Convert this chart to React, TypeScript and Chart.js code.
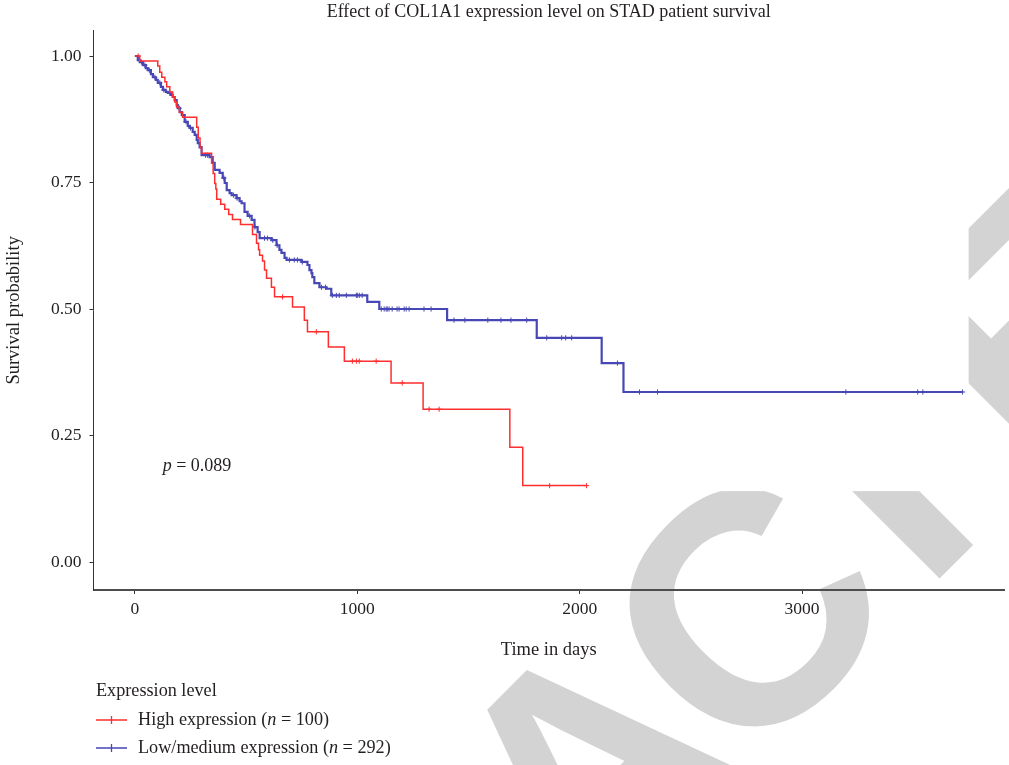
import { useEffect, useRef } from "react";
import { Chart, registerables } from "chart.js";
Chart.register(...registerables);

const TITLE = "Effect of COL1A1 expression level on STAD patient survival";
const X_TITLE = "Time in days";
const Y_TITLE = "Survival probability";
const LEGEND_TITLE = "Expression level";
const X_TICKS = [0, 1000, 2000, 3000];
const Y_TICKS = [0, 0.25, 0.5, 0.75, 1];
const Y_TICK_LABELS = ["0.00", "0.25", "0.50", "0.75", "1.00"];
const P_VALUE = "0.089";
const WATERMARK = "RETRACTED";

const HIGH_NAME = "High expression";
const HIGH_N = 100;
const HIGH_TIMES = [0, 22, 103, 112, 121, 135, 143, 157, 170, 179, 188, 200, 215, 278, 285, 293, 300, 345, 352, 359, 364, 368, 386, 404, 422, 439, 475, 529, 547, 556, 561, 574, 583, 592, 614, 628, 709, 762, 776, 870, 942, 1152, 1296, 1686, 1744];
const HIGH_SURV = [1, 0.99, 0.98, 0.968, 0.958, 0.949, 0.939, 0.929, 0.919, 0.909, 0.899, 0.889, 0.879, 0.859, 0.838, 0.818, 0.808, 0.788, 0.768, 0.748, 0.737, 0.717, 0.707, 0.697, 0.687, 0.677, 0.667, 0.647, 0.63, 0.617, 0.606, 0.595, 0.577, 0.561, 0.543, 0.524, 0.504, 0.478, 0.455, 0.425, 0.397, 0.354, 0.302, 0.227, 0.151];
const HIGH_CENSOR = [15, 664, 816, 978, 996, 1009, 1085, 1202, 1323, 1368, 1865, 2031];

const LOW_NAME = "Low/medium expression";
const LOW_N = 292;
const LOW_TIMES = [0, 13, 22, 36, 49, 58, 72, 81, 94, 103, 117, 126, 139, 148, 161, 170, 179, 188, 193, 202, 211, 224, 238, 247, 260, 269, 278, 283, 291, 300, 336, 350, 359, 381, 395, 404, 413, 426, 435, 457, 471, 480, 493, 507, 525, 538, 552, 561, 614, 637, 650, 659, 673, 682, 749, 776, 785, 794, 798, 807, 830, 861, 883, 1045, 1099, 1404, 1807, 2099, 2197];
const LOW_SURV = [1, 0.992, 0.988, 0.982, 0.976, 0.972, 0.964, 0.958, 0.953, 0.947, 0.939, 0.933, 0.929, 0.927, 0.923, 0.919, 0.913, 0.903, 0.897, 0.889, 0.883, 0.87, 0.862, 0.858, 0.85, 0.844, 0.834, 0.828, 0.82, 0.804, 0.8, 0.789, 0.775, 0.769, 0.759, 0.749, 0.735, 0.729, 0.725, 0.719, 0.713, 0.709, 0.692, 0.684, 0.676, 0.662, 0.652, 0.64, 0.636, 0.626, 0.617, 0.611, 0.601, 0.597, 0.593, 0.587, 0.577, 0.571, 0.563, 0.551, 0.543, 0.54, 0.527, 0.514, 0.5, 0.478, 0.443, 0.393, 0.336];
const LOW_CENSOR = [30, 45, 65, 90, 112, 130, 157, 200, 230, 250, 318, 327, 400, 444, 460, 516, 540, 583, 596, 620, 640, 695, 717, 731, 753, 839, 857, 888, 906, 919, 951, 996, 1000, 1009, 1022, 1108, 1121, 1130, 1135, 1143, 1157, 1179, 1188, 1211, 1220, 1233, 1300, 1332, 1435, 1484, 1587, 1646, 1691, 1762, 1852, 1919, 1937, 1964, 2170, 2269, 2350, 3197, 3520, 3543, 3722];

const RED = "#ff2e2e";
const BLUE = "#4747b5";
const TEXT = "#231f20";
const SERIF = '"Liberation Serif", "DejaVu Serif", serif';

const W = 1009;
const H = 765;

function survAt(times: number[], surv: number[], t: number) {
  let s = surv[0];
  for (let i = 0; i < times.length; i++) {
    if (times[i] <= t) s = surv[i];
  }
  return s;
}

function curve(times: number[], surv: number[], censor: number[]) {
  const pts = times.map((t, i) => ({ x: t, y: surv[i] }));
  const end = Math.max(...censor);
  if (end > times[times.length - 1]) pts.push({ x: end, y: surv[surv.length - 1] });
  return pts;
}

function censorPts(times: number[], surv: number[], censor: number[]) {
  return censor.map((t) => ({ x: t, y: survAt(times, surv, t) }));
}

const watermark = {
  id: "watermark",
  beforeDraw(chart: any) {
    const ctx = chart.ctx;
    ctx.save();
    ctx.fillStyle = "#ffffff";
    ctx.fillRect(0, 0, chart.width, chart.height);
    const size = 330;
    const gaps = [-35, -35, -35, -35, -15, -35, 12, -35, 0];
    ctx.font = `bold ${size}px "Liberation Sans", Arial, sans-serif`;
    ctx.fillStyle = "#d3d3d3";
    ctx.textBaseline = "alphabetic";
    ctx.textAlign = "left";
    const letters = WATERMARK.split("");
    const xs: number[] = [];
    let acc = 0;
    letters.forEach((ch, i) => {
      xs.push(acc);
      acc += ctx.measureText(ch).width + gaps[i];
    });
    const anchor = 5; // first "C"
    const cMid = xs[anchor] + ctx.measureText(letters[anchor]).width / 2;
    ctx.translate(chart.width * 0.7354, chart.height * 0.796);
    ctx.rotate((-45 * Math.PI) / 180);
    letters.forEach((ch, i) => {
      ctx.fillText(ch, xs[i] - cMid, (size * 0.716) / 2);
    });
    ctx.restore();
    ctx.save();
    ctx.fillStyle = "#ffffff";
    ctx.fillRect(0, 0, chart.width * 0.96, chart.height * 0.642);
    ctx.restore();
  },
};

const annotations = {
  id: "kmAnnotations",
  afterDraw(chart: any) {
    const ctx = chart.ctx;
    const xs = chart.scales.x;
    const ys = chart.scales.y;
    ctx.save();
    ctx.fillStyle = TEXT;
    ctx.textBaseline = "middle";
    ctx.textAlign = "left";
    const px = xs.getPixelForValue(125);
    const py = ys.getPixelForValue(0.19);
    ctx.font = `italic 18px ${SERIF}`;
    ctx.fillText("p", px, py);
    const pw = ctx.measureText("p").width;
    ctx.font = `18px ${SERIF}`;
    ctx.fillText(` = ${P_VALUE}`, px + pw, py);

    const lx = 96;
    ctx.font = `18.2px ${SERIF}`;
    ctx.fillText(LEGEND_TITLE, lx, 691);
    const entries = chart.data.datasets.filter((d: any) => d.legendName);
    entries.forEach((d: any, i: number) => {
      const y = 720 + i * 28;
      ctx.strokeStyle = d.borderColor;
      ctx.lineWidth = 1.3;
      ctx.beginPath();
      ctx.moveTo(lx, y);
      ctx.lineTo(lx + 31, y);
      ctx.moveTo(lx + 15.5, y - 4);
      ctx.lineTo(lx + 15.5, y + 4);
      ctx.stroke();
      let x = lx + 42;
      ctx.font = `18.2px ${SERIF}`;
      const a = `${d.legendName} (`;
      ctx.fillText(a, x, y);
      x += ctx.measureText(a).width;
      ctx.font = `italic 18.2px ${SERIF}`;
      ctx.fillText("n", x, y);
      x += ctx.measureText("n").width;
      ctx.font = `18.2px ${SERIF}`;
      ctx.fillText(` = ${d.legendN})`, x, y);
    });
    ctx.restore();
  },
};

export default function App() {
  const ref = useRef<HTMLCanvasElement | null>(null);
  useEffect(() => {
    document.body.style.margin = "0";
    const canvas = ref.current;
    if (!canvas) return;
    const chart = new Chart(canvas, {
      type: "line",
      data: {
        datasets: [
          {
            label: HIGH_NAME,
            legendName: HIGH_NAME,
            legendN: HIGH_N,
            data: curve(HIGH_TIMES, HIGH_SURV, HIGH_CENSOR),
            borderColor: RED,
            borderWidth: 1.5,
            stepped: "before",
            pointRadius: 0,
            fill: false,
          } as any,
          {
            label: LOW_NAME,
            legendName: LOW_NAME,
            legendN: LOW_N,
            data: curve(LOW_TIMES, LOW_SURV, LOW_CENSOR),
            borderColor: BLUE,
            borderWidth: 2.2,
            stepped: "before",
            pointRadius: 0,
            fill: false,
          } as any,
          {
            label: HIGH_NAME + " censored",
            data: censorPts(HIGH_TIMES, HIGH_SURV, HIGH_CENSOR),
            showLine: false,
            pointStyle: "cross",
            pointRadius: 2.6,
            pointBorderWidth: 1,
            borderColor: RED,
            backgroundColor: RED,
          } as any,
          {
            label: LOW_NAME + " censored",
            data: censorPts(LOW_TIMES, LOW_SURV, LOW_CENSOR),
            showLine: false,
            pointStyle: "cross",
            pointRadius: 2.6,
            pointBorderWidth: 1,
            borderColor: BLUE,
            backgroundColor: BLUE,
          } as any,
        ],
      },
      options: {
        animation: false,
        responsive: false,
        maintainAspectRatio: false,
        devicePixelRatio: 1,
        layout: { padding: { left: 0, right: 2.5, top: 0, bottom: 0 } },
        plugins: {
          legend: { display: false },
          tooltip: { enabled: false },
          title: {
            display: true,
            text: TITLE,
            fullSize: false,
            color: TEXT,
            font: { family: SERIF, size: 18, weight: "normal" },
            padding: { top: 1.2, bottom: 7.9 },
          },
        },
        scales: {
          x: {
            type: "linear",
            min: -186,
            max: 3908,
            afterBuildTicks: (s: any) => {
              s.ticks = X_TICKS.map((v) => ({ value: v }));
            },
            afterFit: (s: any) => {
              s.height = H - 590;
            },
            grid: { drawOnChartArea: false, drawTicks: true, tickLength: 4, tickColor: "#333", tickWidth: 1 },
            border: { display: true, color: "#4d4d4d", width: 2 },
            ticks: { color: TEXT, font: { family: SERIF, size: 17.5 }, padding: 5, callback: (v: any) => String(v) },
            title: {
              display: true,
              text: X_TITLE,
              color: TEXT,
              font: { family: SERIF, size: 18.5 },
              padding: { top: 0, bottom: 103.9 },
            },
          },
          y: {
            type: "linear",
            min: -0.0553,
            max: 1.05,
            afterBuildTicks: (s: any) => {
              s.ticks = Y_TICKS.map((v) => ({ value: v }));
            },
            afterFit: (s: any) => {
              s.width = 93.5;
            },
            grid: { drawOnChartArea: false, drawTicks: true, tickLength: 4, tickColor: "#333", tickWidth: 1 },
            border: { display: true, color: "#333", width: 1 },
            ticks: {
              color: TEXT,
              font: { family: SERIF, size: 17.5 },
              padding: 8,
              callback: (v: any) => {
                const i = Y_TICKS.indexOf(Number(v));
                return i >= 0 ? Y_TICK_LABELS[i] : "";
              },
            },
            title: {
              display: true,
              text: Y_TITLE,
              color: TEXT,
              font: { family: SERIF, size: 18.5 },
              padding: { top: 2.9, bottom: 0 },
            },
          },
        },
      } as any,
      plugins: [watermark, annotations],
    });
    return () => chart.destroy();
  }, []);
  return (
    <div style={{ position: "absolute", left: 0, top: 0, width: W, height: H }}>
      <canvas ref={ref} width={W} height={H} style={{ display: "block", width: W, height: H }} />
    </div>
  );
}
